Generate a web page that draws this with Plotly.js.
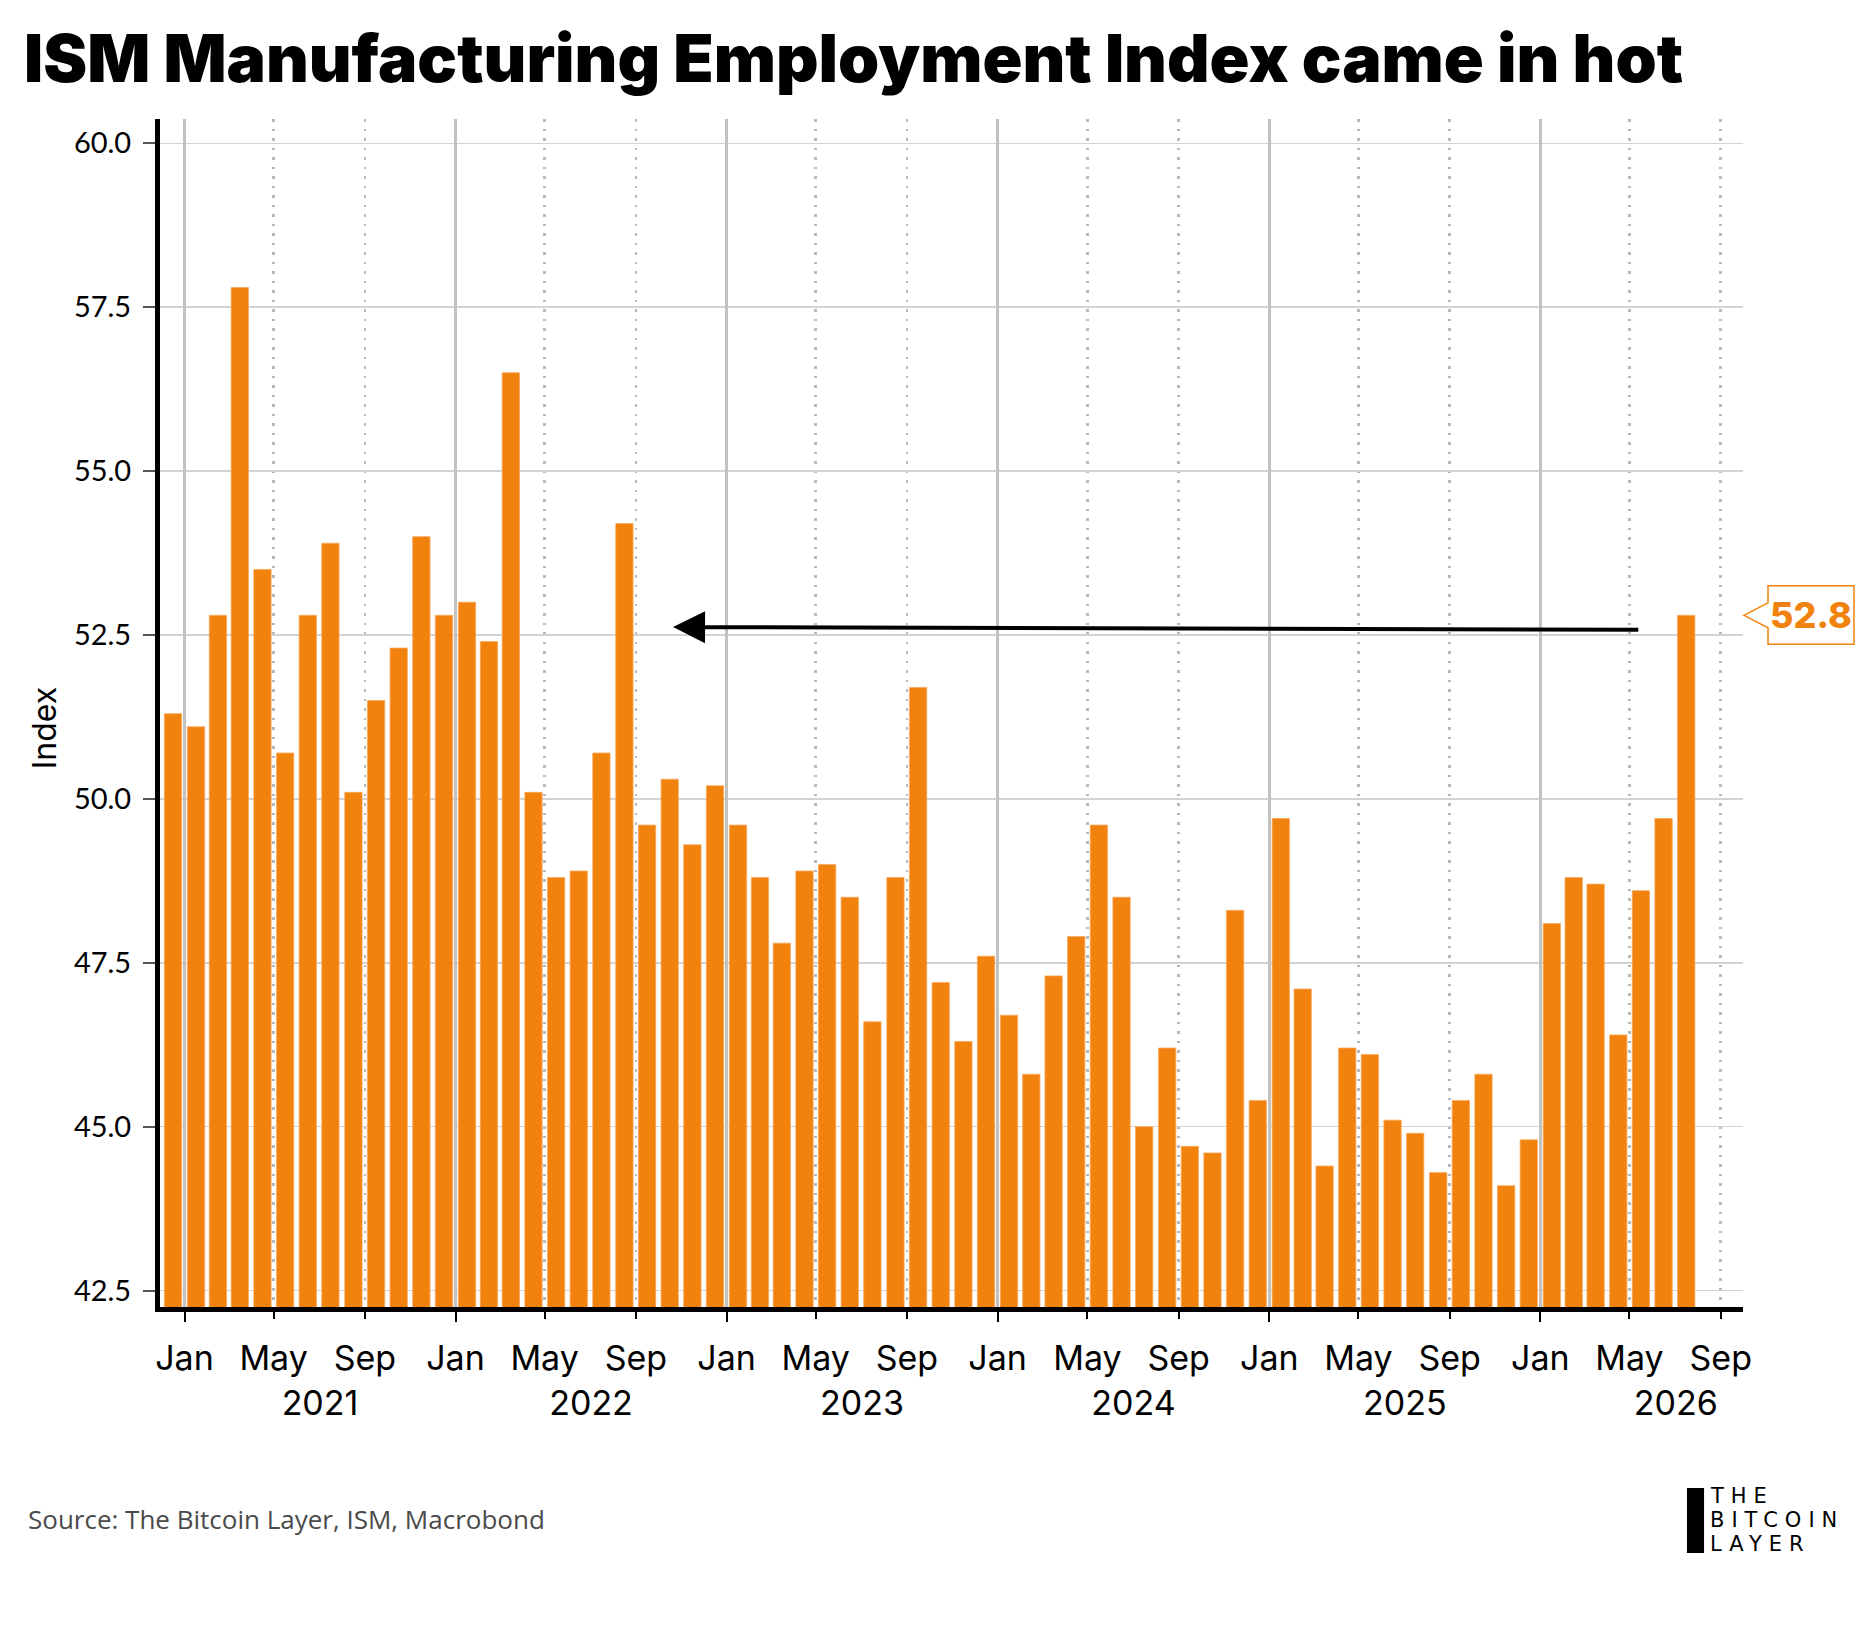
<!DOCTYPE html>
<html>
<head>
<meta charset="utf-8">
<script src="https://cdn.plot.ly/plotly-3.0.1.min.js"></script>
<style>
  html, body { margin: 0; padding: 0; background: #ffffff; }
  #chart { width: 1875px; height: 1625px; }
</style>
</head>
<body>
<div id="chart"></div>
<script>
// monthly ISM manufacturing employment index, Dec 2020 .. Jul 2026
var firstMonth = [2020, 12];
var employment = [
  51.3, 51.1, 52.8, 57.8, 53.5, 50.7, 52.8, 53.9, 50.1, 51.5, 52.3, 54.0,
  52.8, 53.0, 52.4, 56.5, 50.1, 48.8, 48.9, 50.7, 54.2, 49.6, 50.3, 49.3,
  50.2, 49.6, 48.8, 47.8, 48.9, 49.0, 48.5, 46.6, 48.8, 51.7, 47.2, 46.3,
  47.6, 46.7, 45.8, 47.3, 47.9, 49.6, 48.5, 45.0, 46.2, 44.7, 44.6, 48.3,
  45.4, 49.7, 47.1, 44.4, 46.2, 46.1, 45.1, 44.9, 44.3, 45.4, 45.8, 44.1,
  44.8, 48.1, 48.8, 48.7, 46.4, 48.6, 49.7, 52.8
];
var titleText = 'ISM Manufacturing Employment Index came in hot';
var sourceText = 'Source: The Bitcoin Layer, ISM, Macrobond';
var logoLines = ['THE', 'BITCOIN', 'LAYER'];

// arrow pointing back from the latest print
var arrowFrom = ['2026-05-15', 52.58];
var arrowTo = ['2022-10-21', 52.62];

var ORANGE = '#F2820E';

// month strings for the categories
var months = [];
var yr = firstMonth[0], mo = firstMonth[1];
for (var i = 0; i < employment.length; i++) {
	months.push(yr + '-' + (mo < 10 ? '0' + mo : mo) + '-01');
	mo++;
	if (mo > 12) { mo = 1; yr++; }
}
var lastVal = employment[employment.length - 1];

var xRange = ['2020-11-29', '2026-10-01'];
var DAY = 86400000;

var bars = {
	x: months,
	y: employment,
	type: 'bar',
	xperiod: 'M1',
	xperiodalignment: 'middle',
	width: 23.3 * DAY,
	marker: {color: ORANGE, line: {color: '#f7a85a', width: 0.8}},
	hoverinfo: 'x+y'
};
// invisible copy so the year axis (x2) gets drawn
var yearAxisHolder = {
	x: months,
	y: employment,
	xaxis: 'x2',
	type: 'scatter',
	mode: 'markers',
	marker: {opacity: 0},
	hoverinfo: 'skip'
};

var tickFont = {family: 'Inter, sans-serif', size: 34, color: '#000'};

var layout = {
	width: 1875,
	height: 1625,
	margin: {l: 160, r: 132, t: 119, b: 318},
	paper_bgcolor: '#ffffff',
	plot_bgcolor: '#ffffff',
	showlegend: false,
	title: {
		text: titleText,
		font: {family: 'Inter, sans-serif', size: 66, weight: 900, color: '#000'},
		xref: 'container', yref: 'container',
		x: 0.0128, xanchor: 'left',
		y: 0.9635, yanchor: 'middle'
	},
	xaxis: {
		type: 'date',
		range: xRange,
		dtick: 'M4',
		tick0: '2021-01-01',
		tickformat: '%b',
		ticks: 'outside', ticklen: 7, tickwidth: 2, tickcolor: '#000',
		tickfont: tickFont,
		ticklabelstandoff: 10,
		showgrid: true, gridcolor: '#b9b9b9', gridwidth: 2.5, griddash: '2.5px,7px',
		showline: true, linecolor: '#000', linewidth: 5,
		zeroline: false
	},
	xaxis2: {
		type: 'date',
		overlaying: 'x',
		anchor: 'y',
		side: 'bottom',
		range: xRange,
		dtick: 'M12',
		tick0: '2021-01-01',
		tickformat: '%Y',
		ticklabelmode: 'period',
		ticks: 'outside', ticklen: 14, tickwidth: 2, tickcolor: '#000',
		tickfont: tickFont,
		ticklabelstandoff: 52,
		showgrid: true, gridcolor: '#c2c2c2', gridwidth: 2.5,
		showline: false,
		zeroline: false
	},
	yaxis: {
		range: [42.25, 60.37],
		tick0: 42.5,
		dtick: 2.5,
		tickformat: '.1f',
		ticks: 'outside', ticklen: 12, tickwidth: 2, tickcolor: '#555',
		tickfont: {family: 'Lato, sans-serif', size: 29, color: '#000'},
		ticklabelstandoff: 6,
		showgrid: true, gridcolor: '#d3d3d3', gridwidth: 1.5,
		showline: true, linecolor: '#000', linewidth: 5,
		zeroline: false
	},
	shapes: [
		// callout box with pointer for the latest value
		{
			type: 'path', xref: 'paper', yref: 'y', layer: 'above',
			path: 'M1.0006,' + lastVal +
				' L1.0158,' + (lastVal + 0.19) +
				' L1.0158,' + (lastVal + 0.45) +
				' L1.0701,' + (lastVal + 0.45) +
				' L1.0701,' + (lastVal - 0.44) +
				' L1.0158,' + (lastVal - 0.44) +
				' L1.0158,' + (lastVal - 0.19) + ' Z',
			fillcolor: '#ffffff',
			line: {color: ORANGE, width: 1.5}
		},
		// logo bar
		{
			type: 'rect', xref: 'paper', yref: 'paper',
			x0: 0.9646, x1: 0.9754, y0: -0.2071, y1: -0.1524,
			fillcolor: '#000', line: {width: 0}
		}
	],
	annotations: [
		{
			x: arrowTo[0], y: arrowTo[1], xref: 'x', yref: 'y',
			ax: arrowFrom[0], ay: arrowFrom[1], axref: 'x', ayref: 'y',
			text: '', showarrow: true,
			arrowhead: 2, arrowsize: 1.6, arrowwidth: 4, arrowcolor: '#000',
			standoff: 0, startstandoff: 0
		},
		{
			x: 1.043, y: lastVal, xref: 'paper', yref: 'y',
			text: lastVal.toFixed(1), showarrow: false,
			xanchor: 'center', yanchor: 'middle',
			font: {family: 'Inter, sans-serif', size: 36, weight: 800, color: ORANGE}
		},
		{
			x: -0.0733, y: 0.488, xref: 'paper', yref: 'paper',
			text: 'Index', showarrow: false, textangle: -90,
			xanchor: 'center', yanchor: 'middle',
			font: {family: 'Inter, sans-serif', size: 32, color: '#000'}
		},
		{
			x: -0.0846, y: -0.1785, xref: 'paper', yref: 'paper',
			text: sourceText, showarrow: false,
			xanchor: 'left', yanchor: 'middle',
			font: {family: 'Open Sans, sans-serif', size: 26, color: '#4a4a4a'}
		}
	]
};

// logo text, one line each
var logoY = [-0.1595, -0.1797, -0.1999];
for (var k = 0; k < logoLines.length; k++) {
	layout.annotations.push({
		x: 0.9785, y: logoY[k], xref: 'paper', yref: 'paper',
		text: '<span style="letter-spacing:7px">' + logoLines[k] + '</span>',
		showarrow: false, xanchor: 'left', yanchor: 'middle',
		height: 20, borderpad: 0,
		font: {family: 'DejaVu Sans, sans-serif', size: 21, color: '#000'}
	});
}

Plotly.newPlot('chart', [bars, yearAxisHolder], layout, {displayModeBar: false, staticPlot: true});
</script>
</body>
</html>
